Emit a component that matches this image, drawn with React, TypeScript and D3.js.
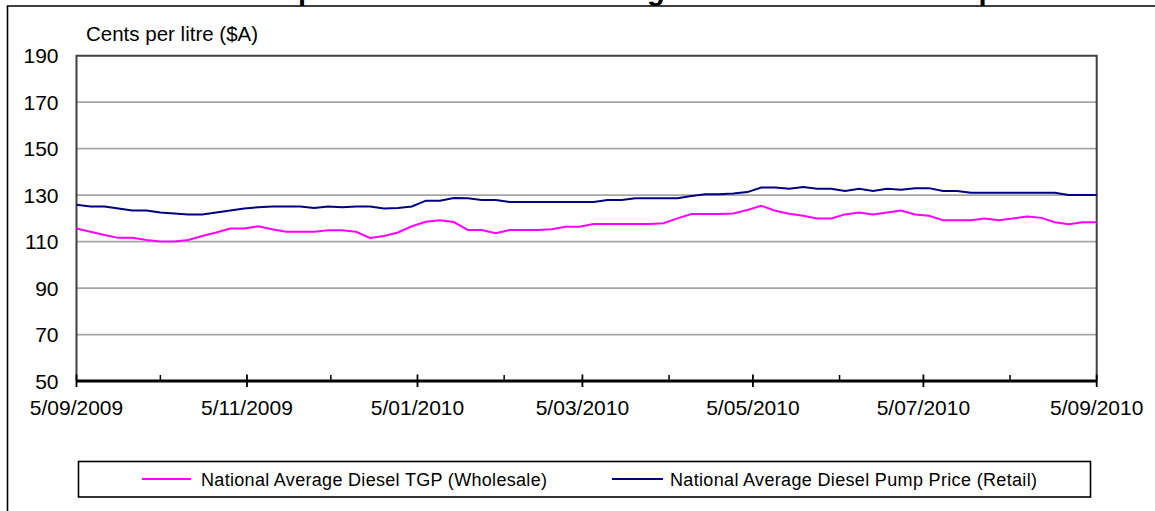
import * as d3 from 'd3'

// samples every 5 days from 5 Sep 2009 to 5 Sep 2010
const startDate = new Date(2009, 8, 5)
const endDate = new Date(2010, 8, 5)
const stepDays = 5

const tgpWholesale = [
  115.6, 114.2, 112.8, 111.6, 111.6, 110.7, 110.0, 110.0, 110.7, 112.4,
  113.9, 115.6, 115.6, 116.6, 115.3, 114.2, 114.2, 114.2, 114.9, 114.9,
  114.2, 111.6, 112.4, 113.9, 116.6, 118.5, 119.2, 118.4, 115.0, 115.0,
  113.6, 115.0, 115.0, 115.0, 115.3, 116.4, 116.4, 117.6, 117.6, 117.6,
  117.6, 117.6, 117.9, 120.0, 121.9, 121.9, 121.9, 122.1, 123.6, 125.4,
  123.3, 122.0, 121.1, 119.9, 119.9, 121.7, 122.5, 121.7, 122.5, 123.4,
  121.7, 121.1, 119.2, 119.2, 119.2, 119.9, 119.2, 119.9, 120.8, 120.3,
  118.3, 117.5, 118.3, 118.3,
]

const pumpRetail = [
  125.9, 125.1, 125.1, 124.2, 123.4, 123.4, 122.5, 122.1, 121.7, 121.7,
  122.5, 123.4, 124.2, 124.8, 125.1, 125.1, 125.1, 124.5, 125.1, 124.8,
  125.1, 125.1, 124.2, 124.5, 125.1, 127.6, 127.6, 128.8, 128.6, 127.9,
  127.9, 127.0, 127.0, 127.0, 127.0, 127.0, 127.0, 127.0, 127.9, 127.9,
  128.7, 128.7, 128.7, 128.7, 129.6, 130.4, 130.4, 130.7, 131.3, 133.3,
  133.3, 132.7, 133.5, 132.7, 132.7, 131.8, 132.7, 131.8, 132.7, 132.3,
  133.0, 133.0, 131.8, 131.8, 131.0, 131.0, 131.0, 131.0, 131.0, 131.0,
  131.0, 130.1, 130.1, 130.1,
]

const yTicks = [50, 70, 90, 110, 130, 150, 170, 190]
const seriesNames = [
  'National Average Diesel TGP (Wholesale)',
  'National Average Diesel Pump Price (Retail)',
]
const title = 'FIGURE 2: Comparison of National Average Diesel TGP with Pump Prices'
const yAxisTitle = 'Cents per litre ($A)'

const font = '"Liberation Sans", Arial, sans-serif'

export default function App() {
  const width = 1155
  const height = 511
  const plot = { left: 76.5, right: 1096.7, top: 55.7, bottom: 381 }

  const x = d3.scaleTime().domain([startDate, endDate]).range([plot.left, plot.right])
  const y = d3.scaleLinear().domain([50, 190]).range([plot.bottom, plot.top])

  const dates = tgpWholesale.map((_, i) => d3.timeDay.offset(startDate, i * stepDays))

  const line = d3
    .line<number>()
    .x((_, i) => x(dates[i]))
    .y((d) => y(d))

  const months = d3.range(13).map((i) => d3.timeMonth.offset(startDate, i))
  const majorTicks = months.filter((_, i) => i % 2 === 0)
  const minorTicks = months.filter((_, i) => i % 2 === 1)
  const fmt = d3.timeFormat('%-d/%m/%Y')

  return (
    <div style={{ position: 'absolute', left: 0, top: 0, width, height, background: '#fff' }}>
      <svg width={width} height={height} style={{ display: 'block', fontFamily: font }}>
        {/* title sits mostly above the visible area, as in the source */}
        <text x={82} y={-0.3} fontSize={29} fontWeight="bold" fill="#000">
          {title}
        </text>

        {/* outer frame */}
        <path d={`M7.5,${height + 2}V6H${width + 2}`} fill="none" stroke="#000" strokeWidth={1.6} />

        <text x={86} y={41} fontSize={20.5} fill="#000">
          {yAxisTitle}
        </text>

        {/* gridlines */}
        {yTicks
          .filter((t) => t !== 50 && t !== 190)
          .map((t) => (
            <line
              key={t}
              x1={plot.left}
              x2={plot.right}
              y1={y(t)}
              y2={y(t)}
              stroke="#a6a6a6"
              strokeWidth={1.7}
            />
          ))}

        {/* plot border */}
        <path
          d={`M${plot.left},${plot.bottom}V${y(190)}H${plot.right}V${plot.bottom}`}
          fill="none"
          stroke="#404040"
          strokeWidth={2}
        />

        {/* y labels */}
        {yTicks.map((t) => (
          <text key={t} x={58.5} y={y(t)} dy="0.36em" textAnchor="end" fontSize={21} fill="#000">
            {t}
          </text>
        ))}

        {/* series */}
        <path d={line(tgpWholesale) ?? ''} fill="none" stroke="#ff00ff" strokeWidth={2} />
        <path d={line(pumpRetail) ?? ''} fill="none" stroke="#000080" strokeWidth={2} />

        {/* x axis */}
        <line x1={plot.left} x2={plot.right} y1={plot.bottom} y2={plot.bottom} stroke="#000" strokeWidth={2.8} />
        {minorTicks.map((d) => (
          <line key={+d} x1={x(d)} x2={x(d)} y1={plot.bottom - 6} y2={plot.bottom} stroke="#000" strokeWidth={1.5} />
        ))}
        {majorTicks.map((d) => (
          <g key={+d}>
            <line x1={x(d)} x2={x(d)} y1={plot.bottom - 6.5} y2={plot.bottom + 6} stroke="#000" strokeWidth={1.8} />
            <text x={x(d)} y={414.5} textAnchor="middle" fontSize={21} fill="#000">
              {fmt(d)}
            </text>
          </g>
        ))}

        {/* legend */}
        <rect x={78.5} y={461.5} width={1012} height={35.5} fill="#fff" stroke="#000" strokeWidth={1.6} />
        <line x1={142} x2={191} y1={479} y2={479} stroke="#ff00ff" strokeWidth={2} />
        <text x={201} y={485.5} fontSize={18} fill="#000" textLength={346} lengthAdjust="spacing">
          {seriesNames[0]}
        </text>
        <line x1={612} x2={663} y1={479} y2={479} stroke="#000080" strokeWidth={2} />
        <text x={670} y={485.5} fontSize={18} fill="#000" textLength={367} lengthAdjust="spacing">
          {seriesNames[1]}
        </text>
      </svg>
    </div>
  )
}
